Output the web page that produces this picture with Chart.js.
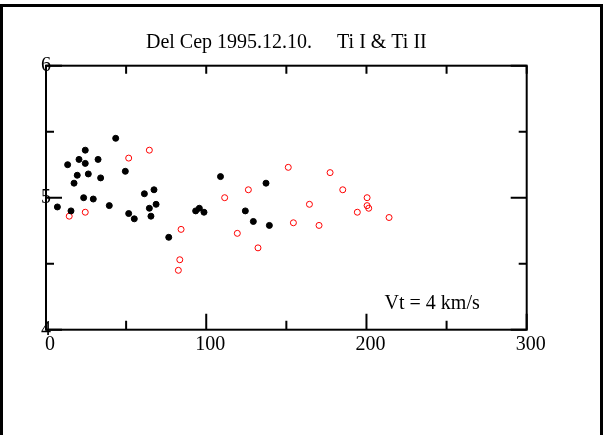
<!DOCTYPE html>
<html>
<head>
<meta charset="utf-8">
<script src="https://cdn.jsdelivr.net/npm/chart.js@4/dist/chart.umd.min.js"></script>
<style>
  html, body { margin: 0; padding: 0; background: #fff; }
  #wrap { width: 603px; height: 435px; }
</style>
</head>
<body>
<div id="wrap"><canvas id="c" width="603" height="435"></canvas></div>
<script>
// Ti I (filled black)
const tiIX = [43.5, 24.5, 13.5, 20.6, 24.5, 32.5, 19.5, 26.4, 34.1, 17.5, 49.5, 23.5, 29.5, 7.1, 15.6, 39.5,
  51.6, 55.1, 61.4, 67.4, 64.5, 68.7, 65.5, 76.6, 93.4, 95.7, 98.6, 108.9, 137.3, 124.4, 129.4, 139.4];
const tiIY = [5.45, 5.36, 5.25, 5.29, 5.26, 5.29, 5.17, 5.18, 5.15, 5.11, 5.2, 5.0, 4.99, 4.93, 4.9, 4.94,
  4.88, 4.84, 5.03, 5.06, 4.92, 4.95, 4.86, 4.7, 4.9, 4.92, 4.89, 5.16, 5.11, 4.9, 4.82, 4.79];
// Ti II (open red)
const tiIIX = [51.6, 14.5, 24.5, 64.5, 84.3, 83.5, 82.6, 151.2, 126.3, 111.5, 154.4, 119.4, 132.3,
  177.3, 185.2, 164.4, 200.4, 200.4, 201.4, 194.3, 170.4, 214.1];
const tiIIY = [5.3, 4.86, 4.89, 5.36, 4.76, 4.53, 4.45, 5.23, 5.06, 5.0, 4.81, 4.73, 4.62,
  5.19, 5.06, 4.95, 5.0, 4.94, 4.92, 4.89, 4.79, 4.85];

const xTicks = [0, 100, 200, 300];
const xMinorTicks = [50, 150, 250];
const yTicks = [4, 5, 6];
const yMinorTicks = [4.5, 5.5];
const titleText = "Del Cep 1995.12.10.     Ti I & Ti II";
const noteText = "Vt = 4 km/s";

const toPoints = (xs, ys) => xs.map((x, i) => ({ x: x, y: ys[i] }));

// axes drawn by hand: ticks point inward, labels sit on the frame
const frame = {
  id: "frame",
  beforeDraw(chart) {
    const ctx = chart.ctx;
    ctx.save();
    ctx.strokeStyle = "#000";
    ctx.lineWidth = 3;
    ctx.strokeRect(1.5, 5.5, 600, 440);
    ctx.restore();
  },
  beforeDatasetsDraw(chart) {
    const ctx = chart.ctx;
    const xs = chart.scales.x, ys = chart.scales.y;
    const { left, right, top, bottom } = chart.chartArea;
    ctx.save();
    ctx.strokeStyle = "#000";
    ctx.lineWidth = 2;
    ctx.strokeRect(left, top, right - left, bottom - top);

    ctx.beginPath();
    xTicks.forEach(v => {
      const px = xs.getPixelForValue(v);
      ctx.moveTo(px, bottom); ctx.lineTo(px, bottom - 16);
      ctx.moveTo(px, top); ctx.lineTo(px, top + 8);
    });
    xMinorTicks.forEach(v => {
      const px = xs.getPixelForValue(v);
      ctx.moveTo(px, bottom); ctx.lineTo(px, bottom - 9);
      ctx.moveTo(px, top); ctx.lineTo(px, top + 8);
    });
    yTicks.forEach(v => {
      const py = ys.getPixelForValue(v);
      ctx.moveTo(left, py); ctx.lineTo(left + 16, py);
      ctx.moveTo(right, py); ctx.lineTo(right - 16, py);
    });
    yMinorTicks.forEach(v => {
      const py = ys.getPixelForValue(v);
      ctx.moveTo(left, py); ctx.lineTo(left + 8, py);
      ctx.moveTo(right, py); ctx.lineTo(right - 8, py);
    });
    ctx.stroke();

    ctx.fillStyle = "#000";
    ctx.font = "20px 'Liberation Serif', 'Times New Roman', serif";
    ctx.textAlign = "center";
    ctx.textBaseline = "middle";
    xTicks.forEach(v => {
      ctx.fillText(String(v), xs.getPixelForValue(v) + 4, bottom + 15);
    });
    yTicks.forEach(v => {
      ctx.fillText(String(v), left, ys.getPixelForValue(v));
    });
    ctx.fillText(noteText, xs.getPixelForValue(241), ys.getPixelForValue(4.2));
    ctx.restore();
  }
};

new Chart(document.getElementById("c"), {
  type: "scatter",
  data: {
    datasets: [
      {
        label: "Ti I",
        data: toPoints(tiIX, tiIY),
        pointStyle: "circle",
        pointRadius: 3,
        pointBorderWidth: 1,
        pointBackgroundColor: "#000",
        pointBorderColor: "#000",
      },
      {
        label: "Ti II",
        data: toPoints(tiIIX, tiIIY),
        pointStyle: "circle",
        pointRadius: 3,
        pointBorderWidth: 1,
        pointBackgroundColor: "rgba(255,255,255,0)",
        pointBorderColor: "#ff0000",
      },
    ],
  },
  options: {
    responsive: false,
    animation: false,
    layout: {
      padding: { left: 46, right: 76.3, top: 0, bottom: 105.3 },
    },
    plugins: {
      legend: { display: false },
      tooltip: { enabled: false },
      title: {
        display: true,
        text: titleText,
        color: "#000",
        font: { size: 20, family: "'Liberation Serif', 'Times New Roman', serif", weight: "normal", lineHeight: 1.2 },
        padding: { top: 31, bottom: 10.7 },
      },
    },
    scales: {
      x: { type: "linear", min: 0, max: 300, display: false },
      y: { type: "linear", min: 4, max: 6, display: false },
    },
  },
  plugins: [frame],
});
</script>
</body>
</html>
